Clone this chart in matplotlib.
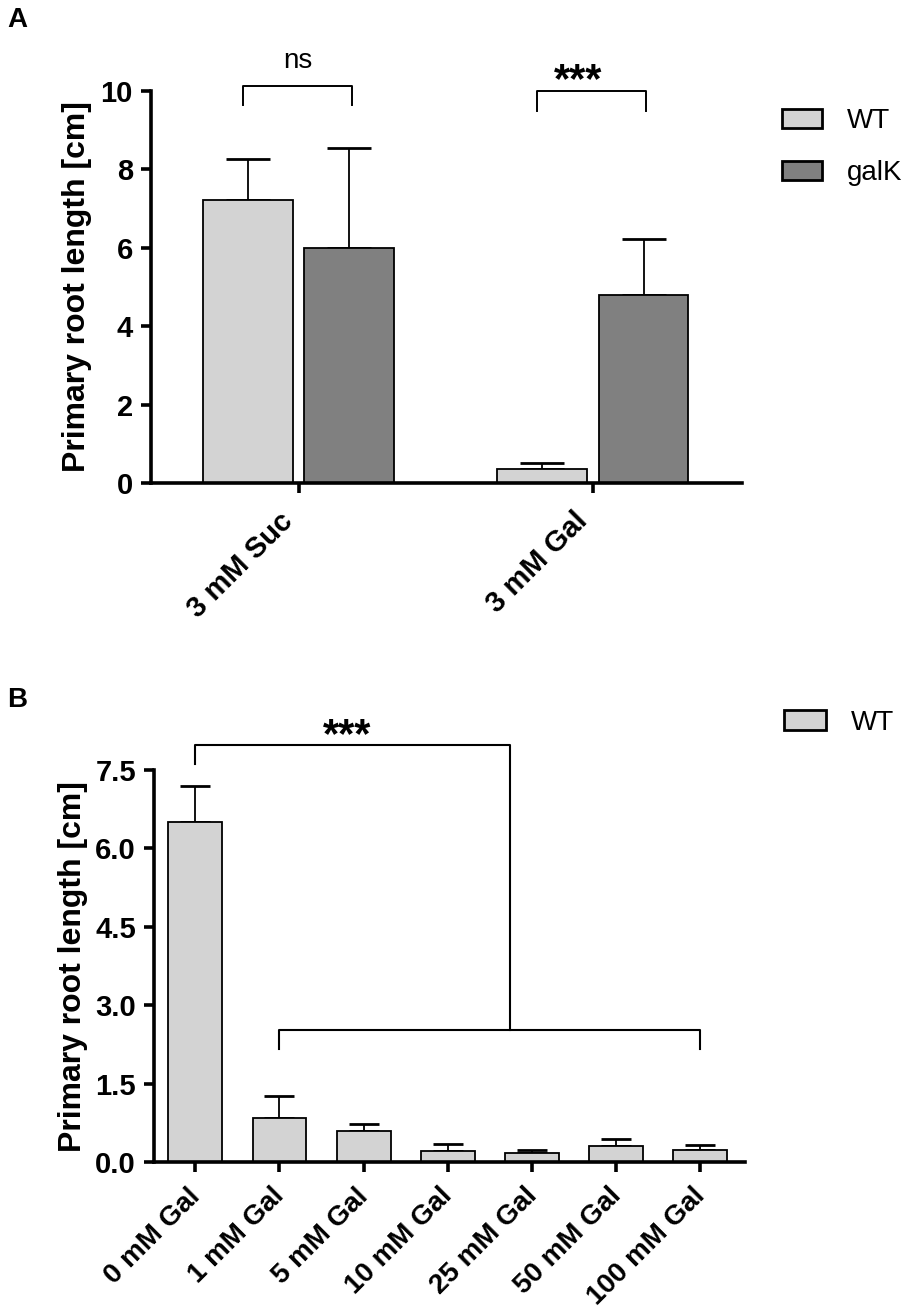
import matplotlib
matplotlib.use("Agg")
import matplotlib.pyplot as plt
import matplotlib.transforms as mtransforms
import numpy as np

plt.rcParams['font.family'] = ['Liberation Sans', 'DejaVu Sans']

# ---------------- data ----------------
a_categories = ["3 mM Suc", "3 mM Gal"]
a_series = ["WT", "galK"]
a_wt_mean = [7.21, 0.36]
a_wt_err = [1.05, 0.16]
a_galk_mean = [5.99, 4.79]
a_galk_err = [2.54, 1.43]
a_yticks = [0, 2, 4, 6, 8, 10]
a_sig = ["ns", "***"]

b_categories = ["0 mM Gal", "1 mM Gal", "5 mM Gal", "10 mM Gal",
                "25 mM Gal", "50 mM Gal", "100 mM Gal"]
b_mean = [6.51, 0.85, 0.60, 0.22, 0.17, 0.31, 0.24]
b_err = [0.68, 0.41, 0.14, 0.13, 0.06, 0.13, 0.09]
b_yticks = [0.0, 1.5, 3.0, 4.5, 6.0, 7.5]
b_sig = "***"

WT_COLOR = "#d3d3d3"
GALK_COLOR = "#808080"

fig = plt.figure(figsize=(9.09, 13.13), dpi=100)
H = 1313.0
W = 909.0

def style_axes(ax):
    for s in ["top", "right"]:
        ax.spines[s].set_visible(False)
    for s in ["left", "bottom"]:
        ax.spines[s].set_linewidth(2.6)
    ax.tick_params(axis="both", width=2.6, length=7, pad=6)
    ax.tick_params(axis="y", labelsize=21)
    ax.tick_params(axis="x", pad=8)
    for lab in ax.get_yticklabels():
        lab.set_fontweight("bold")
    shift = mtransforms.ScaledTranslation(10 / 100.0, 0, fig.dpi_scale_trans)
    for lab in ax.get_xticklabels():
        lab.set_transform(lab.get_transform() + shift)

# ---------------- panel A ----------------
axA = fig.add_axes([151 / W, 1 - 483.3 / H, (742 - 151) / W, (483.3 - 90.7) / H])
xa = np.arange(len(a_categories))
off = 0.172
bw = 0.306
axA.bar(xa - off, a_wt_mean, bw, color=WT_COLOR, edgecolor="black",
        linewidth=1.3, label=a_series[0], zorder=2)
axA.bar(xa + off, a_galk_mean, bw, color=GALK_COLOR, edgecolor="black",
        linewidth=1.3, label=a_series[1], zorder=2)
axA.errorbar(xa - off, a_wt_mean, yerr=[np.zeros(len(xa)), a_wt_err],
             fmt="none", ecolor="black", elinewidth=1.3, capsize=15.5,
             capthick=2.0, zorder=1)
axA.errorbar(xa + off, a_galk_mean, yerr=[np.zeros(len(xa)), a_galk_err],
             fmt="none", ecolor="black", elinewidth=1.3, capsize=15.5,
             capthick=2.0, zorder=1)
axA.set_xlim(-0.503, 1.507)
axA.set_ylim(0, 10)
axA.set_yticks(a_yticks)
axA.set_xticks(xa)
axA.set_xticklabels(a_categories, rotation=45, ha="right",
                    fontsize=21, fontweight="bold")
style_axes(axA)
axA.tick_params(axis="x", pad=10)
axA.set_ylabel("Primary root length [cm]", fontsize=23, fontweight="bold")
axA.yaxis.set_label_coords(-0.100, 0.5)

# brackets A
br_y = [10.12, 9.98]
br_leg = [9.63, 9.49]
for i in range(len(a_categories)):
    x0, x1 = xa[i] - 0.19, xa[i] + 0.18
    axA.plot([x0, x0, x1, x1], [br_leg[i], br_y[i], br_y[i], br_leg[i]],
             color="black", lw=1.4, clip_on=False)
axA.text(xa[0] - 0.005, 10.58, a_sig[0], ha="center", va="baseline", fontsize=20)
axA.text(xa[1] - 0.05, 9.97, a_sig[1], ha="center", va="baseline",
         fontsize=30, fontweight="bold")

legA = axA.legend(loc="upper left", bbox_to_anchor=(782 / W, 1 - 108 / H),
                  bbox_transform=fig.transFigure, frameon=False, fontsize=20,
                  handlelength=1.44, handleheight=0.70, handletextpad=0.88,
                  labelspacing=0.95, borderpad=0, borderaxespad=0)
for h in legA.legend_handles:
    h.set_linewidth(2.0)

# ---------------- panel B ----------------
axB = fig.add_axes([154 / W, 1 - 1162.3 / H, (745 - 154) / W, (1162.3 - 770) / H])
xb = np.arange(len(b_categories))
axB.bar(xb, b_mean, 0.64, color=WT_COLOR, edgecolor="black", linewidth=1.3,
        label="WT", zorder=2)
axB.errorbar(xb, b_mean, yerr=[np.zeros(len(xb)), b_err], fmt="none",
             ecolor="black", elinewidth=1.3, capsize=11, capthick=2.0, zorder=1)
axB.set_xlim(-0.49, 6.53)
axB.set_ylim(0, 7.5)
axB.set_yticks(b_yticks)
axB.set_yticklabels([f"{v:.1f}" for v in b_yticks])
axB.set_xticks(xb)
axB.set_xticklabels(b_categories, rotation=45, ha="right",
                    fontsize=20, fontweight="bold")
style_axes(axB)
axB.set_ylabel("Primary root length [cm]", fontsize=23, fontweight="bold")
axB.yaxis.set_label_coords(-0.112, 0.5)

# brackets B
top_y, top_leg = 7.97, 7.61
low_y, low_leg = 2.53, 2.16
join_x = 3.74
axB.plot([xb[0], xb[0], join_x, join_x], [top_leg, top_y, top_y, low_y],
         color="black", lw=1.5, clip_on=False)
axB.plot([xb[1], xb[1], xb[-1], xb[-1]], [low_leg, low_y, low_y, low_leg],
         color="black", lw=1.5, clip_on=False)
axB.text(1.8, 7.93, b_sig, ha="center", va="baseline", fontsize=30,
         fontweight="bold", clip_on=False)

legB = axB.legend(loc="upper left", bbox_to_anchor=(784 / W, 1 - 710 / H),
                  bbox_transform=fig.transFigure, frameon=False, fontsize=20,
                  handlelength=1.5, handleheight=0.72, handletextpad=0.92,
                  borderpad=0, borderaxespad=0)
for h in legB.legend_handles:
    h.set_linewidth(2.0)

# panel letters
fig.text(7 / W, 1 - 27 / H, "A", fontsize=20, fontweight="bold",
         ha="left", va="baseline")
fig.text(7 / W, 1 - 707 / H, "B", fontsize=20, fontweight="bold",
         ha="left", va="baseline")

fig.savefig("out.png", dpi=100)
